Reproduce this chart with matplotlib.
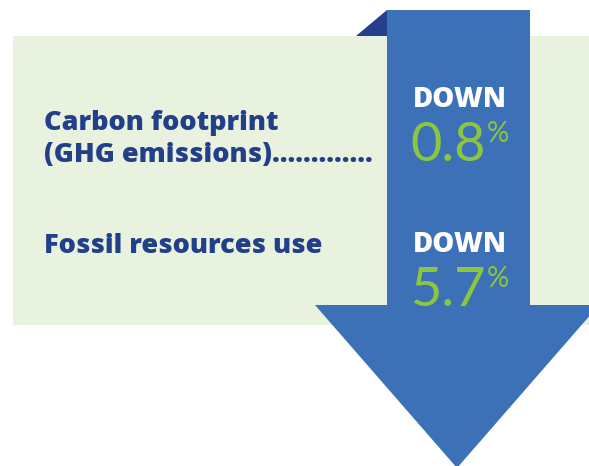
import matplotlib.pyplot as plt
from matplotlib.patches import Polygon, Rectangle

# metrics and their year-on-year change (%)
label_lines = [["Carbon footprint", "(GHG emissions)............."],
               ["Fossil resources use"]]
directions = ["DOWN", "DOWN"]
changes = [0.8, 5.7]

panel_c = "#e9f1df"
arrow_c = "#3d71b7"
fold_c = "#243f8e"
navy = "#223f8a"
green = "#8cc63f"

W, H = 589, 466
fig = plt.figure(figsize=(W / 100, H / 100), dpi=100)
ax = fig.add_axes([0, 0, 1, 1])
ax.set_xlim(0, W)
ax.set_ylim(H, 0)
ax.axis("off")

# background panel
ax.add_patch(Rectangle((13, 36), W - 13, 289, color=panel_c, lw=0))

# folded corner at top of arrow
ax.add_patch(Polygon([(356, 36), (387, 10), (387, 36)], closed=True,
                     color=fold_c, lw=0))

# big down arrow
ax.add_patch(Polygon([(387, 10), (530, 10), (530, 305), (599, 305),
                      (457, 468), (315, 305), (387, 305)], closed=True,
                     color=arrow_c, lw=0))

row_base = [130, 253]
for i, lines in enumerate(label_lines):
    y0 = row_base[i]
    for j, line in enumerate(lines):
        ax.text(44, y0 + 32 * j, line, color=navy, fontsize=19.5,
                fontfamily="Open Sans", fontweight=800, va="baseline", ha="left")

down_base = [107, 252]
num_base = [161, 306]
for i, (d, v) in enumerate(zip(directions, changes)):
    ax.text(460, down_base[i], d, color="white", fontsize=20,
            fontfamily="Open Sans", fontweight=800, va="baseline", ha="center")
    ax.text(486, num_base[i], f"{v:.1f}", color=green, fontsize=39,
            fontfamily="Lato", fontweight="normal", va="baseline", ha="right")
    ax.text(487, num_base[i] - 19, "%", color=green, fontsize=20,
            fontfamily="Lato", fontweight="normal", va="baseline", ha="left")

fig.savefig("out.png", dpi=100)
